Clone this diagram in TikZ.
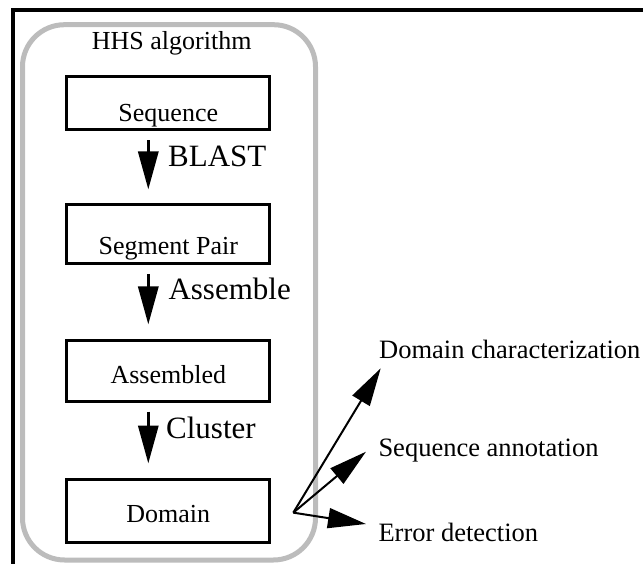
\documentclass[tikz,border=0pt]{standalone}
\usepackage{fontspec}
\setmainfont{Liberation Serif}
\usetikzlibrary{arrows.meta,positioning}
\definecolor{hhsgray}{RGB}{188,188,188}

\begin{document}
\begin{tikzpicture}[x=1pt, y=-1pt,
  stage/.style 2 args={rectangle, draw, line width=3pt, minimum width=203pt, inner sep=0pt,
    text height=#1, text depth=#2, font=\fontsize{26pt}{30pt}\selectfont},
  flow/.style={line width=3.2pt, -{Triangle[length=38pt,width=20pt]}, shorten <=9pt, shorten >=14pt},
  opname/.style={anchor=base west, inner sep=0pt, font=\fontsize{31pt}{36pt}\selectfont},
  outcome/.style={anchor=base west, inner sep=0pt, font=\fontsize{26.5pt}{31pt}\selectfont},
  outarrow/.style={line width=2pt, -{Triangle[length=38pt,width=20pt]}}
]
  \useasboundingbox (0,0) rectangle (643,564);
  \draw[line width=3.2pt] (13,564) -- (13,10) -- (643,10);
  \draw[hhsgray, line width=5pt, rounded corners=42pt] (22.5,24.7) rectangle (315.5,560);
  \node[anchor=base west, inner sep=0pt, font=\fontsize{26pt}{30pt}\selectfont] (title) at (91.7,49.3) {HHS algorithm};

  \node[stage={45.2pt}{8.3pt}, anchor=base] (seq) at (168.3,121.7) {Sequence};
  \node[stage={49.3pt}{9pt}, anchor=base] (seg) at (168.3,254.3) {Segment Pair};
  \node[stage={43.3pt}{17.7pt}, anchor=base] (asm) at (168.3,383.3) {Assembled};
  \node[stage={43.7pt}{19.6pt}, anchor=base] (dom) at (168.3,522.7) {Domain};

  \draw[flow] ([xshift=-20pt]seq.south) -- ([xshift=-20pt]seg.north);
  \draw[flow] ([xshift=-20pt]seg.south) -- ([xshift=-20pt]asm.north);
  \draw[flow] ([xshift=-20pt]asm.south) -- ([xshift=-20pt]dom.north);
  \node[opname] (blast) at (168,167) {BLAST};
  \node[opname] (assemble) at (168.3,300) {Assemble};
  \node[opname] (cluster) at (166,438) {Cluster};

  \node[outcome] (dchar) at (379,359) {Domain characterization};
  \node[outcome] (sannot) at (378.3,456.7) {Sequence annotation};
  \node[outcome] (errdet) at (378.3,541.7) {Error detection};
  \coordinate (split) at ([xshift=22pt,yshift=-2pt]dom.east);
  \draw[outarrow] (split) -- ([shift={(1.7,9.3)}]dchar.base west);
  \draw[outarrow] (split) -- ([shift={(-12.3,-5)}]sannot.base west);
  \draw[outarrow] (split) -- ([shift={(-12.3,-17.7)}]errdet.base west);
\end{tikzpicture}
\end{document}
